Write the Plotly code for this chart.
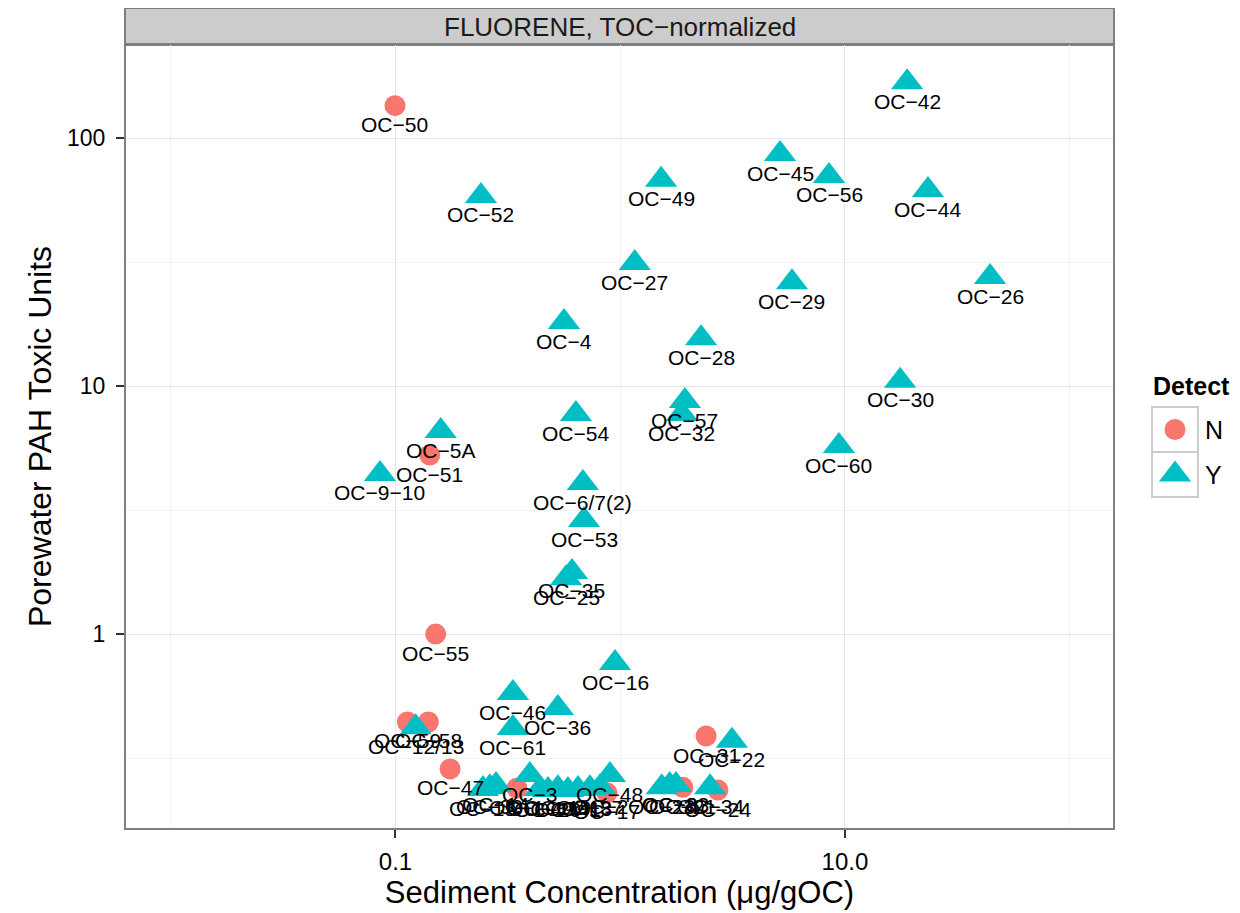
import numpy as np
import plotly.graph_objects as go

# page offset of the plotly div (default body margin) and figure size
OFF = 8
W, H = 1240 - OFF, 913 - OFF

# ---------------- data ----------------
station = [
    "OC-50", "OC-42", "OC-45", "OC-56", "OC-44", "OC-52", "OC-49", "OC-27",
    "OC-29", "OC-26", "OC-4", "OC-28", "OC-30", "OC-57", "OC-32", "OC-54",
    "OC-5A", "OC-51", "OC-9-10", "OC-60", "OC-6/7(2)", "OC-53", "OC-35", "OC-25",
    "OC-55", "OC-16", "OC-46", "OC-36", "OC-61", "OC-31", "OC-22", "OC-59",
    "OC-58", "OC-12/13", "OC-47", "OC-15", "OC-39", "OC-14", "OC-3", "OC-40",
    "OC-20", "OC-19", "OC-41", "OC-18", "OC-37", "OC-2", "OC-48", "OC-1",
    "OC-17", "OC-23", "OC-8", "OC-33", "OC-21", "OC-34", "OC-24",
]
sed_conc = [
    0.0995, 18.9, 5.14, 8.49, 23.4, 0.240, 1.52, 1.16,
    5.81, 44.2, 0.562, 2.29, 17.6, 1.94, 1.88, 0.635,
    0.159, 0.142, 0.0853, 9.40, 0.682, 0.690, 0.610, 0.574,
    0.151, 0.948, 0.333, 0.528, 0.333, 2.41, 3.14, 0.113,
    0.140, 0.123, 0.175, 0.245, 0.263, 0.280, 0.396, 0.440,
    0.477, 0.528, 0.585, 0.649, 0.733, 0.813, 0.900, 0.347,
    0.873, 1.53, 1.66, 1.77, 1.90, 2.51, 2.72,
]
tox_units = [
    135, 168, 86.2, 70.3, 61.7, 58.4, 67.8, 31.3,
    26.2, 27.5, 18.1, 15.6, 10.5, 8.70, 7.71, 7.71,
    6.58, 5.27, 4.42, 5.73, 4.06, 2.88, 1.78, 1.68,
    1.00, 0.764, 0.578, 0.503, 0.418, 0.388, 0.371, 0.442,
    0.442, 0.421, 0.286, 0.237, 0.241, 0.246, 0.270, 0.237,
    0.235, 0.239, 0.235, 0.237, 0.239, 0.241, 0.270, 0.239,
    0.229, 0.241, 0.246, 0.246, 0.241, 0.241, 0.235,
]
detect = [
    "N", "Y", "Y", "Y", "Y", "Y", "Y", "Y",
    "Y", "Y", "Y", "Y", "Y", "Y", "Y", "Y",
    "Y", "N", "Y", "Y", "Y", "Y", "Y", "Y",
    "N", "Y", "Y", "Y", "Y", "N", "Y", "N",
    "N", "Y", "N", "Y", "Y", "Y", "Y", "Y",
    "Y", "Y", "Y", "Y", "Y", "Y", "Y", "N",
    "N", "Y", "Y", "Y", "N", "Y", "N",
]

detect_levels = ["N", "Y"]
x_tick_vals = [0.001, 0.1, 10, 1000]
x_tick_text = ["0.001", "0.1", "10.0", "1000.0"]
x_minor_vals = [0.01, 1, 100]
y_tick_vals = [1, 10, 100]
y_tick_text = ["1", "10", "100"]
y_minor_vals = [0.316, 3.16, 31.6, 316]

# ---------------- styling ----------------
FONT = "Liberation Sans, Arial, Helvetica, sans-serif"
COLORS = {"N": "#F8766D", "Y": "#00BFC4"}
SYMBOLS = {"N": "circle", "Y": "triangle-up"}
SIZES = {"N": 21, "Y": 28}

# panel box in page pixels
PX0, PX1, PY0, PY1 = 126, 1113, 45, 828


def fx(p):
    return (p - OFF) / W


def fy(p):
    return 1 - (p - OFF) / H


fig = go.Figure()

for lev in detect_levels:
    idx = [i for i, d in enumerate(detect) if d == lev]
    fig.add_trace(go.Scatter(
        x=[sed_conc[i] for i in idx],
        y=[tox_units[i] for i in idx],
        mode="markers",
        name=lev,
        marker=dict(symbol=SYMBOLS[lev], size=SIZES[lev], color=COLORS[lev],
                    line=dict(width=0)),
        showlegend=False,
        hoverinfo="skip",
    ))

# legend keys drawn on a small auxiliary axis
for i, lev in enumerate(detect_levels):
    fig.add_trace(go.Scatter(
        x=[0.5], y=[len(detect_levels) - 0.5 - i],
        xaxis="x2", yaxis="y2", mode="markers",
        marker=dict(symbol=SYMBOLS[lev], size=SIZES[lev], color=COLORS[lev],
                    line=dict(width=0)),
        showlegend=False, hoverinfo="skip",
    ))

annotations = []
# point labels (below each point)
for s, xv, yv in zip(station, sed_conc, tox_units):
    annotations.append(dict(
        x=np.log10(xv), y=np.log10(yv), xref="x", yref="y",
        text=s.replace("-", "\u2212"), showarrow=False,
        yshift=-19, xanchor="center", yanchor="middle",
        font=dict(family=FONT, size=21, color="black"),
    ))

# strip label
annotations.append(dict(
    x=fx((PX0 + PX1) / 2), y=fy(27), xref="paper", yref="paper",
    text="FLUORENE, TOC\u2212normalized", showarrow=False,
    xanchor="center", yanchor="middle",
    font=dict(family=FONT, size=26, color="#1A1A1A"),
))

# legend title and labels
annotations.append(dict(
    x=fx(1151), y=fy(386), xref="paper", yref="paper",
    text="<b>Detect</b>", showarrow=False, xanchor="left", yanchor="middle",
    font=dict(family=FONT, size=25, color="black"),
))
key_top, key_h = 407, 45
for i, lev in enumerate(detect_levels):
    annotations.append(dict(
        x=fx(1203), y=fy(key_top + key_h * (i + 0.5)), xref="paper", yref="paper",
        text=lev, showarrow=False, xanchor="left", yanchor="middle",
        font=dict(family=FONT, size=25, color="black"),
    ))

shapes = [
    # strip
    dict(type="rect", xref="paper", yref="paper",
         x0=fx(PX0 - 1), x1=fx(PX1 + 1), y0=fy(PY0), y1=fy(8),
         fillcolor="#CCCCCC", line=dict(color="#7F7F7F", width=2), layer="below"),
]
for i, lev in enumerate(detect_levels):
    shapes.append(dict(
        type="rect", xref="paper", yref="paper",
        x0=fx(1152), x1=fx(1198),
        y0=fy(key_top + key_h * (i + 1)), y1=fy(key_top + key_h * i),
        fillcolor="white", line=dict(color="#CCCCCC", width=2), layer="below"))

fig.update_layout(
    width=W, height=H,
    margin=dict(l=0, r=0, t=0, b=0),
    paper_bgcolor="white", plot_bgcolor="white",
    font=dict(family=FONT, color="black"),
    showlegend=False,
    annotations=annotations,
    shapes=shapes,
    xaxis=dict(
        type="log", domain=[fx(PX0), fx(PX1)], range=[-2.199, 2.1925],
        tickvals=x_tick_vals, ticktext=x_tick_text,
        ticks="outside", ticklen=8, tickwidth=1.5, tickcolor="#333333",
        ticklabelstandoff=3,
        showline=True, linecolor="#7F7F7F", linewidth=2, mirror=True,
        showgrid=True, gridcolor="#E5E5E5", gridwidth=1.2, zeroline=False,
        minor=dict(tickvals=x_minor_vals, showgrid=True, gridcolor="#F3F3F3",
                   gridwidth=1, ticks=""),
        tickfont=dict(family=FONT, size=24, color="black"),
        title=dict(text="Sediment Concentration (\u03bcg/gOC)", standoff=0,
                   font=dict(family=FONT, size=31, color="black")),
        automargin=False,
    ),
    yaxis=dict(
        type="log", domain=[fy(PY1), fy(PY0)], range=[-0.782, 2.375],
        tickvals=y_tick_vals, ticktext=y_tick_text,
        ticks="outside", ticklen=8, tickwidth=1.5, tickcolor="#333333",
        ticklabelstandoff=6,
        showline=True, linecolor="#7F7F7F", linewidth=2, mirror=True,
        showgrid=True, gridcolor="#E5E5E5", gridwidth=1.2, zeroline=False,
        minor=dict(tickvals=y_minor_vals, showgrid=True, gridcolor="#F3F3F3",
                   gridwidth=1, ticks=""),
        tickfont=dict(family=FONT, size=23, color="black"),
        title=dict(text="Porewater PAH Toxic Units", standoff=6,
                   font=dict(family=FONT, size=32, color="black")),
        automargin=False,
    ),
    xaxis2=dict(domain=[fx(1152), fx(1198)], range=[0, 1], visible=False,
                anchor="y2", fixedrange=True),
    yaxis2=dict(domain=[fy(key_top + key_h * 2), fy(key_top)], range=[0, 2],
                visible=False, anchor="x2", fixedrange=True),
)

fig.write_html("out.html")
